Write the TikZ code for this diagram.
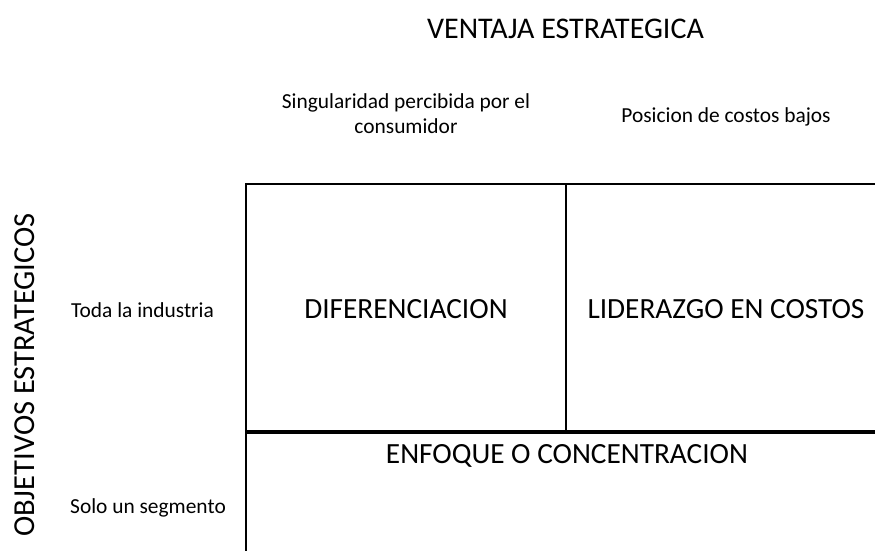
\documentclass[tikz,border=0pt]{standalone}
\usepackage{fontspec}
\setmainfont{Carlito}
\begin{document}
\begin{tikzpicture}[x=1pt,y=-1pt,
  small/.style={font=\fontsize{21.4}{25}\selectfont, inner sep=0pt, anchor=base},
  big/.style={font=\fontsize{29.3}{34}\selectfont, inner sep=0pt, anchor=base},
  frame/.style={line width=2pt, line cap=rect},
  thin/.style={line width=1.5pt},
  thick/.style={line width=3.5pt}]
\useasboundingbox (0,0) rectangle (875,550);
% frame lines
\coordinate (tl) at (246,184);
\coordinate (tr) at (875,184);
\coordinate (bl) at (246,550);
\coordinate (ml) at (246,432);
\coordinate (mr) at (875,432);
\coordinate (mt) at (566,184);
\coordinate (mb) at (566,432);
\draw[frame] (tr) -- (tl) -- (bl);
\draw[thin] (mt) -- (mb);
\draw[thick] (ml) -- (mr);
% texts
\node[big, font=\fontsize{30}{34}\selectfont] (ventaja) at (565.5,38) {VENTAJA ESTRATEGICA};
\node[small, align=center] (singular) at (406,133) {Singularidad percibida por el\\consumidor};
\node[small] (posicion) at (726,122) {Posicion de costos bajos};
\node[big, font=\fontsize{30.5}{34}\selectfont, rotate=90] (objetivos) at (34,375) {OBJETIVOS ESTRATEGICOS};
\node[small] (toda) at (142.5,317) {Toda la industria};
\node[small] (solo) at (148,513) {Solo un segmento};
\node[big] (dif) at (406,318.5) {DIFERENCIACION};
\node[big] (lid) at (726,318.5) {LIDERAZGO EN COSTOS};
\node[big] (enf) at (567,463) {ENFOQUE O CONCENTRACION};
\end{tikzpicture}
\end{document}
